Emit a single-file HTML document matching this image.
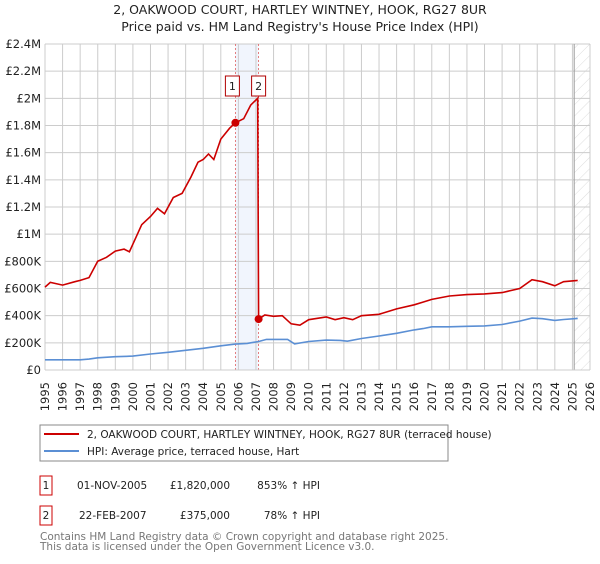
<!DOCTYPE html>
<html><head><meta charset="utf-8"><style>
body{margin:0;background:#fff;width:600px;height:560px;overflow:hidden;font-family:"DejaVu Sans","Liberation Sans",sans-serif}
svg text{font-family:"DejaVu Sans","Liberation Sans",sans-serif}
</style></head><body>
<svg id="c" width="600" height="560">
<text x="300" y="14" text-anchor="middle" font-size="12.5" fill="#222">2, OAKWOOD COURT, HARTLEY WINTNEY, HOOK, RG27 8UR</text>
<text x="300" y="31" text-anchor="middle" font-size="12.5" fill="#222">Price paid vs. HM Land Registry's House Price Index (HPI)</text>
<g id="grid"></g><g id="marks"></g><g id="axes"></g>
<g>
<rect x="40" y="425" width="408" height="36" fill="#fff" stroke="#888"/>
<line x1="44" y1="434" x2="79" y2="434" stroke="#cc0000" stroke-width="2"/>
<text x="87" y="438" font-size="10.5" fill="#222">2, OAKWOOD COURT, HARTLEY WINTNEY, HOOK, RG27 8UR (terraced house)</text>
<line x1="44" y1="451" x2="79" y2="451" stroke="#5b8fd4" stroke-width="2"/>
<text x="87" y="455" font-size="10.5" fill="#222">HPI: Average price, terraced house, Hart</text>
</g>
<g font-size="10.5" fill="#222">
<rect x="40" y="476" width="12" height="19" fill="#fff" stroke="#cc0000"/><text x="46" y="489" text-anchor="middle">1</text>
<text x="77" y="489">01-NOV-2005</text><text x="230" y="489" text-anchor="end">£1,820,000</text><text x="320" y="489" text-anchor="end">853% ↑ HPI</text>
<rect x="40" y="506" width="12" height="19" fill="#fff" stroke="#cc0000"/><text x="46" y="519" text-anchor="middle">2</text>
<text x="79" y="519">22-FEB-2007</text><text x="230" y="519" text-anchor="end">£375,000</text><text x="320" y="519" text-anchor="end">78% ↑ HPI</text>
</g>
<text x="40" y="540" font-size="10.5" fill="#777">Contains HM Land Registry data © Crown copyright and database right 2025.</text>
<text x="40" y="550" font-size="10.5" fill="#777">This data is licensed under the Open Government Licence v3.0.</text>
</svg>
<script>
const yTicks=[0,200000,400000,600000,800000,1000000,1200000,1400000,1600000,1800000,2000000,2200000,2400000];
const yLabels=["£0","£200K","£400K","£600K","£800K","£1M","£1.2M","£1.4M","£1.6M","£1.8M","£2M","£2.2M","£2.4M"];
const years=[1995,1996,1997,1998,1999,2000,2001,2002,2003,2004,2005,2006,2007,2008,2009,2010,2011,2012,2013,2014,2015,2016,2017,2018,2019,2020,2021,2022,2023,2024,2025,2026];
const hpiT=[1995,1996,1997,1997.5,1998,1999,2000,2001,2002,2003,2004,2005,2005.83,2006.5,2007.15,2007.6,2008.5,2008.8,2009.2,2010,2011,2011.8,2012.2,2013,2014,2015,2016,2016.5,2017,2018,2019,2020,2021,2022,2022.7,2023.3,2024,2024.5,2025.3];
const hpiV=[75000,75000,75000,80000,90000,98000,102000,118000,130000,145000,160000,178000,191000,196000,210000,225000,225000,225000,192000,210000,220000,218000,212000,232000,250000,270000,295000,305000,318000,318000,322000,325000,335000,360000,382000,378000,365000,372000,380000];
const redT=[1995,1995.3,1996,1996.7,1997,1997.5,1998,1998.5,1999,1999.5,1999.8,2000.5,2001,2001.4,2001.8,2002.3,2002.8,2003.3,2003.7,2004,2004.3,2004.6,2005,2005.5,2005.83,2006.3,2006.7,2007.1,2007.15,2007.5,2008,2008.5,2009,2009.5,2010,2011,2011.5,2012,2012.5,2013,2014,2015,2016,2016.5,2017,2018,2019,2020,2021,2022,2022.7,2023.3,2024,2024.5,2025.3];
const redV=[610000,645000,625000,650000,660000,680000,800000,830000,875000,890000,870000,1070000,1130000,1190000,1150000,1270000,1300000,1420000,1530000,1550000,1590000,1550000,1700000,1780000,1820000,1850000,1950000,2000000,375000,405000,395000,400000,340000,330000,370000,390000,370000,385000,370000,400000,410000,450000,480000,500000,520000,545000,555000,560000,570000,600000,665000,650000,620000,650000,660000];
const saleT=[2005.83,2007.15];const saleV=[1820000,375000];const saleLbl=["1","2"];
const X0=45,X1=590,Y0=370,Y1=44;
const sx=t=>X0+(t-1995)/(2026-1995)*(X1-X0);
const sy=v=>Y0-v/2400000*(Y0-Y1);
const NS="http://www.w3.org/2000/svg";
function mk(p,tag,a){const e=document.createElementNS(NS,tag);for(const k in a)e.setAttribute(k,a[k]);p.appendChild(e);return e;}
const grid=document.getElementById('grid'),marks=document.getElementById('marks'),axes=document.getElementById('axes');
const band=mk(grid,'rect',{x:sx(saleT[0]),y:Y1,width:sx(saleT[1])-sx(saleT[0]),height:Y0-Y1,fill:'#f1f5fd'});


const defs=mk(grid,'defs',{});const pat=mk(defs,'pattern',{id:'h',width:8,height:8,patternUnits:'userSpaceOnUse',patternTransform:'rotate(45)'});
mk(pat,'line',{x1:0,y1:0,x2:0,y2:8,stroke:'#d4d4d4','stroke-width':0.8});
const hz=mk(grid,'rect',{x:sx(2025.1),y:Y1,width:X1-sx(2025.1),height:Y0-Y1,fill:'url(#h)'});


yTicks.forEach((v,i)=>{mk(grid,'line',{x1:X0,x2:X1,y1:sy(v),y2:sy(v),stroke:'#ccc'});
const t=mk(axes,'text',{x:X0-4,y:sy(v)+4,'text-anchor':'end','font-size':11.5,fill:'#222'});t.textContent=yLabels[i];

});
years.forEach(y=>{mk(grid,'line',{x1:sx(y),x2:sx(y),y1:Y1,y2:Y0,stroke:'#ccc'});
const t=mk(axes,'text',{x:0,y:0,'text-anchor':'end','font-size':11.5,fill:'#222',transform:`translate(${sx(y)+4},382) rotate(-90)`});t.textContent=y;

});
mk(grid,'line',{x1:sx(2025.1),x2:sx(2025.1),y1:Y1,y2:Y0,stroke:'#999'});
saleT.forEach(t=>mk(grid,'line',{x1:sx(t),x2:sx(t),y1:Y1,y2:Y0,stroke:'#e06060','stroke-dasharray':'2,2','stroke-width':0.8}));
const pts=(T,V)=>T.map((t,i)=>sx(t).toFixed(1)+','+sy(V[i]).toFixed(1)).join(' ');
const hl=mk(marks,'polyline',{points:pts(hpiT,hpiV),fill:'none',stroke:'#5b8fd4','stroke-width':1.6});


const rl=mk(marks,'polyline',{points:pts(redT,redV),fill:'none',stroke:'#cc0000','stroke-width':1.6});


saleT.forEach((t,i)=>{const c=mk(marks,'circle',{cx:sx(t),cy:sy(saleV[i]),r:4,fill:'#cc0000'});


const bx=sx(t)-(i==0?10:7);
const r=mk(marks,'rect',{x:bx,y:76,width:14,height:20,fill:'#fff',stroke:'#b00000'});


const tx=mk(marks,'text',{x:bx+7,y:90,'text-anchor':'middle','font-size':11,fill:'#222'});tx.textContent=saleLbl[i];});
mk(axes,'line',{x1:X0,x2:X1,y1:Y0,y2:Y0,stroke:'#ccc'});
</script>
</body></html>
